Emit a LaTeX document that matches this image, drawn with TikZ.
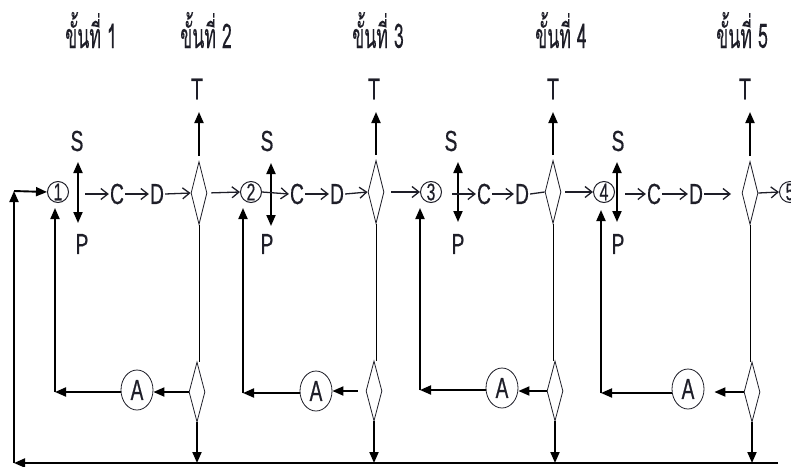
\documentclass[tikz,border=0pt]{standalone}
\usepackage{fontspec}
\usetikzlibrary{arrows.meta,shapes.geometric}
\newfontfamily\thaifont[Script=Thai,FakeStretch=0.52,FakeBold=0.1]{Loma}
\newfontfamily\narrowsf[FakeStretch=0.66,FakeBold=0.5]{Liberation Sans}
\definecolor{ink}{HTML}{1E1E28}
\begin{document}
\begin{tikzpicture}[x=1pt,y=-1pt,
  lbl/.style={font=\narrowsf\fontsize{29}{29}\selectfont, text=ink, inner sep=1pt},
  tlbl/.style={lbl, font=\narrowsf\fontsize{30}{30}\selectfont},
  stagelbl/.style={font=\thaifont\fontsize{34}{34}\selectfont, text=ink, anchor=base, inner sep=0pt},
  num/.style={circle, draw=ink, line width=1pt, minimum size=21pt, inner sep=0pt,
    font=\narrowsf\fontsize{24}{24}\selectfont, text=ink},
  valve/.style={diamond, draw=ink, line width=0.8pt, minimum width=16pt, minimum height=63pt, inner sep=0pt},
  lvalve/.style={valve, minimum height=60pt},
  pump/.style={ellipse, draw=ink, line width=0.8pt, minimum width=32pt, minimum height=40pt, inner sep=0pt,
    font=\narrowsf\fontsize{29}{29}\selectfont, text=ink},
  flow/.style={draw=ink, line width=1.3pt, -{Straight Barb[length=7pt,width=11pt]}},
  plain/.style={draw=ink, line width=1.3pt},
  heavy/.style={draw=black, line width=1.9pt, -{Triangle[length=11pt,width=9pt]}},
  both/.style={draw=black, line width=1.9pt, {Triangle[length=11pt,width=9pt]}-{Triangle[length=11pt,width=9pt]}},
  link/.style={draw=black, line width=0.9pt},
]
\useasboundingbox (0,0) rectangle (791,466);

% stage headings
\node[stagelbl] (h1) at (91,48) {ขั้นที่ 1};
\node[stagelbl] (h2) at (206,48) {ขั้นที่ 2};
\node[stagelbl] (h3) at (378,48) {ขั้นที่ 3};
\node[stagelbl] (h4) at (561,48) {ขั้นที่ 4};
\node[stagelbl] (h5) at (742,48) {ขั้นที่ 5};

% T labels
\node[tlbl] (t1) at (197,89) {T};
\node[tlbl] (t2) at (374,89) {T};
\node[tlbl] (t3) at (553,89) {T};
\node[tlbl] (t4) at (745,89) {T};

% numbered circles
\node[num] (n1) at (58,192) {1};
\node[num] (n2) at (251,192) {2};
\node[num] (n3) at (431,192) {3};
\node[num] (n4) at (604,192) {4};
\node[num] (n5) at (790,192) {5};

% S and P
\node[lbl] (s1) at (77,141) {S};
\node[lbl] (s2) at (267,141) {S};
\node[lbl] (s3) at (451,141) {S};
\node[lbl] (s4) at (618,141) {S};
\node[lbl] (p1) at (82,244) {P};
\node[lbl] (p2) at (267,244) {P};
\node[lbl] (p3) at (458,244) {P};
\node[lbl] (p4) at (618,244) {P};

% C and D
\node[lbl] (c1) at (117,194) {C};
\node[lbl] (d1) at (157,194) {D};
\node[lbl] (c2) at (297,194) {C};
\node[lbl] (d2) at (337,194) {D};
\node[lbl] (c3) at (484,194) {C};
\node[lbl] (d3) at (522,194) {D};
\node[lbl] (c4) at (654,194) {C};
\node[lbl] (d4) at (696,194) {D};

% valves
\node[valve] (u1) at (199,193) {};
\node[valve] (u2) at (376,192) {};
\node[valve] (u3) at (553,192) {};
\node[valve] (u4) at (750,193) {};
\node[lvalve] (l1) at (197,392) {};
\node[lvalve] (l2) at (374,391) {};
\node[lvalve] (l3) at (555,391) {};
\node[lvalve] (l4) at (752,392) {};

% pumps
\node[pump] (a1) at (137,390) {A};
\node[pump] (a2) at (316,391) {A};
\node[pump] (a3) at (502,388) {A};
\node[pump] (a4) at (688,389) {A};

% free ends
\coordinate (sp1t) at (78,162);  \coordinate (sp1b) at (78,223);
\coordinate (sp2t) at (271,163); \coordinate (sp2b) at (271,226);
\coordinate (sp3t) at (458,162); \coordinate (sp3b) at (458,222);
\coordinate (sp4t) at (617,162); \coordinate (sp4b) at (617,222);
\coordinate (m1) at (85,194);
\coordinate (m3) at (452,194);
\coordinate (m4) at (625,194);
\coordinate (e4) at (731,194);
\coordinate (f1) at (55,392);  \coordinate (g1) at (55,208);
\coordinate (f2) at (243,393); \coordinate (g2) at (243,208);
\coordinate (f3) at (420,390); \coordinate (g3) at (420,208);
\coordinate (f4) at (601,393); \coordinate (g4) at (601,210);
\coordinate (br) at (778,463);
\coordinate (bl) at (14,463);
\coordinate (tl) at (14,191);

% S/P double arrows
\draw[both] (sp1t) -- (sp1b);
\draw[both] (sp2t) -- (sp2b);
\draw[both] (sp3t) -- (sp3b);
\draw[both] (sp4t) -- (sp4b);

% main flow, stage 1
\draw[flow] (m1) -- (c1.west);
\draw[flow] (c1.east) -- (d1.west);
\draw[flow] (d1.east) -- (u1.west);
\draw[flow, shorten <=4pt] (u1.east) -- (n2.west);
% stage 2
\draw[flow] (n2.east) -- (c2.west);
\draw[flow] (c2.east) -- (d2.west);
\draw[flow] (d2.east) -- (u2.west);
\draw[flow, shorten <=7pt] (u2.east) -- (n3.west);
% stage 3
\draw[flow] (m3) -- (c3.west);
\draw[flow] (c3.east) -- (d3.west);
\draw[plain] (d3.east) -- (u3.west);
\draw[flow, shorten <=4pt] (u3.east) -- (n4.west);
% stage 4
\draw[flow] (m4) -- (c4.west);
\draw[flow] (c4.east) -- (d4.west);
\draw[flow] (d4.east) -- (e4);
\draw[flow] (u4.east) -- (n5.west);

% outputs T
\draw[heavy, shorten <=5pt] (u1.north) -- (u1.north |- 0,112);
\draw[heavy, shorten <=5pt] (u2.north) -- (u2.north |- 0,112);
\draw[heavy, shorten <=5pt] (u3.north) -- (u3.north |- 0,112);
\draw[heavy, shorten <=5pt] (u4.north) -- (u4.north |- 0,112);

% valve links
\draw[link] (u1.south) -- (u1.south |- l1.north);
\draw[link] (u2.south) -- (u2.south |- l2.north);
\draw[link] (u3.south) -- (u3.south |- l3.north);
\draw[link] (u4.south) -- (u4.south |- l4.north);

% recycle loops
\draw[heavy] (l1.west) -- (a1.east |- l1.west);
\draw[heavy] (a1.west |- f1) -- (f1);
\draw[heavy] (f1) -- (g1);
\draw[heavy, shorten <=8pt] (l2.west) -- (a2.east |- l2.west);
\draw[heavy] (a2.west |- f2) -- (f2);
\draw[heavy] (f2) -- (g2);
\draw[heavy] (l3.west) -- (a3.east |- l3.west);
\draw[heavy] (a3.west |- f3) -- (f3);
\draw[heavy] (f3) -- (g3);
\draw[heavy, shorten >=10pt] (l4.west) -- (a4.east |- l4.west);
\draw[heavy] (a4.west |- f4) -- (f4);
\draw[heavy] (f4) -- (g4);

% down to collector
\draw[heavy] (l1.south) -- (l1.south |- br);
\draw[heavy] (l2.south) -- (l2.south |- br);
\draw[heavy] (l3.south) -- (l3.south |- br);
\draw[heavy] (l4.south) -- (l4.south |- br);

% collector and return
\draw[heavy] (br) -- (bl);
\draw[heavy] (bl) -- (tl);
\draw[heavy] (tl) -- (n1.west);
\end{tikzpicture}
\end{document}
